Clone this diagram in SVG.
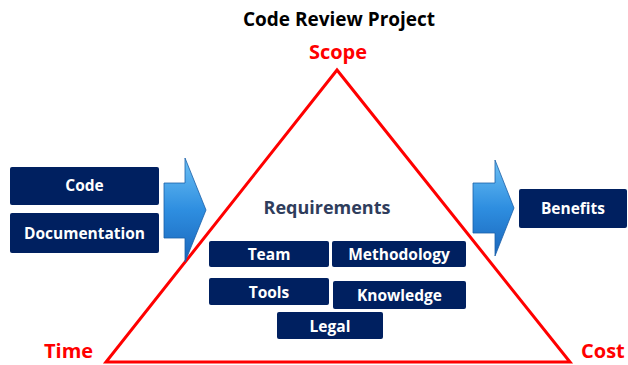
<svg xmlns="http://www.w3.org/2000/svg" width="628" height="365" viewBox="0 0 628 365">
  <style>
    .box { fill: #002060; }
    .lbl { font-family: "Open Sans", "Liberation Sans", sans-serif; font-weight: bold; font-size: 15.5px; fill: #ffffff; text-anchor: middle; }
    .red { font-family: "Open Sans", "Liberation Sans", sans-serif; font-weight: bold; font-size: 20px; fill: #ff0000; }
    .arrow { fill: url(#blueGrad); stroke: #1a5fa8; stroke-width: 0.8; }
  </style>
  <defs>
    <linearGradient id="blueGrad" x1="0" y1="0" x2="0" y2="1">
      <stop offset="0" stop-color="#6cc0f4"/>
      <stop offset="0.5" stop-color="#2e8ee0"/>
      <stop offset="1" stop-color="#1a66bb"/>
    </linearGradient>
  </defs>

  <!-- title -->
  <text x="339" y="26" font-family="Open Sans, Liberation Sans, sans-serif" font-weight="bold" font-size="19px" fill="#000" text-anchor="middle">Code Review Project</text>

  <!-- scope / time / cost triangle -->
  <polygon points="337,70 106,362 570,362" fill="none" stroke="#ff0000" stroke-width="3"/>
  <text class="red" x="338" y="59" text-anchor="middle">Scope</text>
  <text class="red" x="44" y="358">Time</text>
  <text class="red" x="581" y="358">Cost</text>

  <!-- block arrows -->
  <g id="connectors">
    <polygon class="arrow" points="164,183 185,183 185,158 206,210 185,262 185,238 164,238"/>
    <polygon class="arrow" points="473,183 495,183 495,160 514,208 495,256 495,233 473,233"/>
  </g>

  <g id="code">
    <rect class="box" x="10" y="167" width="149" height="38" rx="2"/>
    <text class="lbl" x="84.5" y="191">Code</text>
  </g>
  <g id="documentation">
    <rect class="box" x="10" y="213" width="149" height="40" rx="2"/>
    <text class="lbl" x="84.5" y="238.5">Documentation</text>
  </g>

  <g id="requirements">
    <text x="327" y="214" font-family="Open Sans, Liberation Sans, sans-serif" font-weight="bold" font-size="18px" fill="#2f3d5c" text-anchor="middle">Requirements</text>
  </g>

  <g id="team">
    <rect class="box" x="209" y="241" width="120" height="26" rx="2"/>
    <text class="lbl" x="269" y="259.5">Team</text>
  </g>
  <g id="methodology">
    <rect class="box" x="332" y="241" width="134" height="26" rx="2"/>
    <text class="lbl" x="399" y="259.5">Methodology</text>
  </g>
  <g id="tools">
    <rect class="box" x="209" y="278" width="120" height="27" rx="2"/>
    <text class="lbl" x="269" y="297.5">Tools</text>
  </g>
  <g id="knowledge">
    <rect class="box" x="333" y="281" width="133" height="28" rx="2"/>
    <text class="lbl" x="399.5" y="300.5">Knowledge</text>
  </g>
  <g id="legal">
    <rect class="box" x="277" y="312" width="106" height="27" rx="2"/>
    <text class="lbl" x="330" y="331.5">Legal</text>
  </g>

  <g id="benefits">
    <rect class="box" x="519" y="189" width="108" height="39" rx="2"/>
    <text class="lbl" x="573" y="214">Benefits</text>
  </g>
</svg>
